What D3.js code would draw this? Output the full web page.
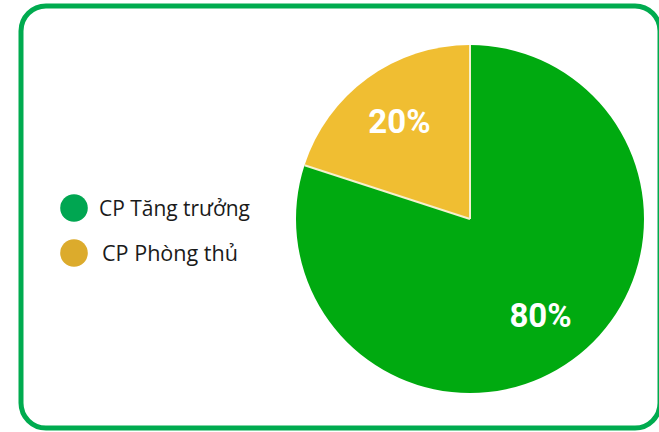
<!DOCTYPE html>
<html>
<head>
<meta charset="utf-8">
<script src="https://cdn.jsdelivr.net/npm/d3@7"></script>
<style>
  html, body { margin: 0; padding: 0; background: #ffffff; }
  svg { display: block; }
</style>
</head>
<body>
<svg id="chart" width="659" height="432"></svg>
<script>
// Portfolio split between growth and defensive stocks
const categories = ["CP Tăng trưởng", "CP Phòng thủ"];
const values = [80, 20];
const sliceColors = ["#00aa10", "#f0be32"];
const legendColors = ["#00a651", "#dcab2c"];

const svg = d3.select("#chart");

// Rounded frame
svg.append("rect")
  .attr("x", 21).attr("y", 6)
  .attr("width", 639).attr("height", 422)
  .attr("rx", 25).attr("ry", 25)
  .attr("fill", "#ffffff")
  .attr("stroke", "#00ab4f")
  .attr("stroke-width", 5);

// Pie
const cx = 470, cy = 219, r = 174;
const color = d3.scaleOrdinal().domain(categories).range(sliceColors);

// Largest slice runs clockwise from 12 o'clock, the smaller one closes the circle
const pie = d3.pie().sort(null).value(d => d.value);
const arcs = pie(categories.map((c, i) => ({ name: c, value: values[i] })));

const arc = d3.arc().innerRadius(0).outerRadius(r);
const labelArc = d3.arc().innerRadius(120).outerRadius(120);

const g = svg.append("g").attr("transform", `translate(${cx},${cy})`);

g.selectAll("path.slice")
  .data(arcs)
  .join("path")
  .attr("class", "slice")
  .attr("d", arc)
  .attr("fill", d => color(d.data.name));

// Thin light separators along the radial edges
g.selectAll("line.sep")
  .data(arcs)
  .join("line")
  .attr("class", "sep")
  .attr("x1", 0).attr("y1", 0)
  .attr("x2", d => r * Math.sin(d.startAngle))
  .attr("y2", d => -r * Math.cos(d.startAngle))
  .attr("stroke", "#f6f1cf")
  .attr("stroke-width", 2);

// Percent labels, vertically centred on the cap height
const pctSize = 33;
g.selectAll("text.pct")
  .data(arcs)
  .join("text")
  .attr("class", "pct")
  .attr("transform", d => `translate(${labelArc.centroid(d)})`)
  .attr("text-anchor", "middle")
  .attr("dy", pctSize * 0.33)
  .attr("font-family", "Roboto, 'Liberation Sans', sans-serif")
  .attr("font-weight", 700)
  .attr("font-size", pctSize)
  .attr("fill", "#ffffff")
  .text(d => d.data.value + "%");

// Legend
const legendWidths = [151, 136];
const rows = svg.append("g").selectAll("g.row")
  .data(categories)
  .join("g")
  .attr("class", "row")
  .attr("transform", (d, i) => `translate(74,${208 + i * 45})`);

rows.append("circle")
  .attr("r", 13.8)
  .attr("fill", (d, i) => legendColors[i]);

rows.append("text")
  .attr("x", (d, i) => i === 0 ? 25 : 28)
  .attr("y", 8)
  .attr("font-family", "'Open Sans', 'Noto Sans', sans-serif")
  .attr("font-size", 22)
  .attr("textLength", (d, i) => legendWidths[i])
  .attr("lengthAdjust", "spacingAndGlyphs")
  .attr("fill", "#1a1a1a")
  .text(d => d);
</script>
</body>
</html>
